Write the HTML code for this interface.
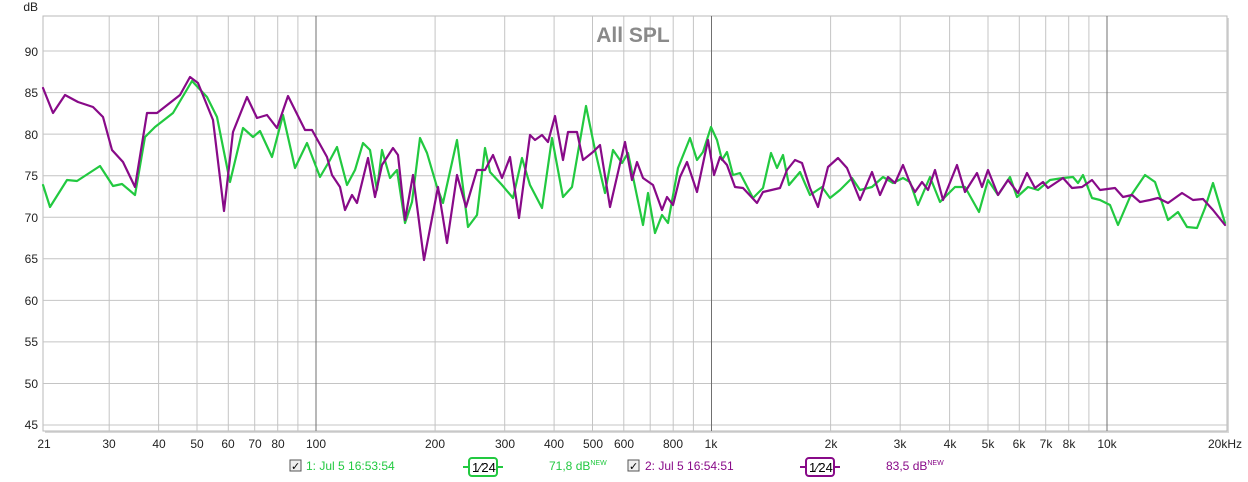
<!DOCTYPE html>
<html><head><meta charset="utf-8"><style>
html,body{margin:0;padding:0;background:#fff;}
svg{display:block;font-family:"Liberation Sans",sans-serif;}
</style></head><body>
<svg width="1248" height="482" viewBox="0 0 1248 482" xmlns="http://www.w3.org/2000/svg">
<rect x="0" y="0" width="1248" height="482" fill="#fff"/>
<rect x="45" y="18" width="1184" height="415" fill="#d8d8d8"/>
<rect x="43" y="16" width="1184" height="415" fill="#fff" stroke="#b8b8b8" stroke-width="1"/>
<g stroke="#c4c4c4" stroke-width="1">
<line x1="43" x2="1227" y1="51" y2="51"/><line x1="43" x2="1227" y1="92.6" y2="92.6"/>
<line x1="43" x2="1227" y1="134.1" y2="134.1"/><line x1="43" x2="1227" y1="175.7" y2="175.7"/>
<line x1="43" x2="1227" y1="217.2" y2="217.2"/><line x1="43" x2="1227" y1="258.8" y2="258.8"/>
<line x1="43" x2="1227" y1="300.4" y2="300.4"/><line x1="43" x2="1227" y1="341.9" y2="341.9"/>
<line x1="43" x2="1227" y1="383.5" y2="383.5"/><line x1="43" x2="1227" y1="425" y2="425"/>
<line y1="16" y2="431" x1="109.2" x2="109.2"/><line y1="16" y2="431" x1="158.6" x2="158.6"/>
<line y1="16" y2="431" x1="197" x2="197"/><line y1="16" y2="431" x1="228.3" x2="228.3"/>
<line y1="16" y2="431" x1="254.7" x2="254.7"/><line y1="16" y2="431" x1="277.7" x2="277.7"/>
<line y1="16" y2="431" x1="297.9" x2="297.9"/>
<line y1="16" y2="431" x1="435.1" x2="435.1"/><line y1="16" y2="431" x1="504.7" x2="504.7"/>
<line y1="16" y2="431" x1="554.1" x2="554.1"/><line y1="16" y2="431" x1="592.5" x2="592.5"/>
<line y1="16" y2="431" x1="623.8" x2="623.8"/><line y1="16" y2="431" x1="650.2" x2="650.2"/>
<line y1="16" y2="431" x1="673.2" x2="673.2"/><line y1="16" y2="431" x1="693.4" x2="693.4"/>
<line y1="16" y2="431" x1="830.6" x2="830.6"/><line y1="16" y2="431" x1="900.2" x2="900.2"/>
<line y1="16" y2="431" x1="949.6" x2="949.6"/><line y1="16" y2="431" x1="988" x2="988"/>
<line y1="16" y2="431" x1="1019.3" x2="1019.3"/><line y1="16" y2="431" x1="1045.7" x2="1045.7"/>
<line y1="16" y2="431" x1="1068.7" x2="1068.7"/><line y1="16" y2="431" x1="1088.9" x2="1088.9"/>
</g>
<g stroke="#707070" stroke-width="1">
<line y1="16" y2="431" x1="316" x2="316"/><line y1="16" y2="431" x1="711.5" x2="711.5"/><line y1="16" y2="431" x1="1107" x2="1107"/>
</g>
<text x="633" y="42" font-size="21" font-weight="bold" fill="#8a8a8a" text-anchor="middle">All SPL</text>
<g font-size="12" fill="#222" text-anchor="end">
<text x="38" y="11">dB</text>
<text x="38" y="56">90</text><text x="38" y="97">85</text><text x="38" y="139">80</text>
<text x="38" y="180">75</text><text x="38" y="222">70</text><text x="38" y="263">65</text>
<text x="38" y="305">60</text><text x="38" y="346">55</text><text x="38" y="388">50</text><text x="38" y="429">45</text>
</g>
<g font-size="12" fill="#222" text-anchor="middle">
<text x="44" y="448">21</text><text x="109" y="448">30</text><text x="159" y="448">40</text>
<text x="197" y="448">50</text><text x="228" y="448">60</text><text x="255" y="448">70</text>
<text x="278" y="448">80</text><text x="316" y="448">100</text><text x="435" y="448">200</text>
<text x="505" y="448">300</text><text x="554" y="448">400</text><text x="593" y="448">500</text>
<text x="624" y="448">600</text><text x="673" y="448">800</text><text x="711" y="448">1k</text>
<text x="831" y="448">2k</text><text x="900" y="448">3k</text><text x="950" y="448">4k</text>
<text x="988" y="448">5k</text><text x="1019" y="448">6k</text><text x="1046" y="448">7k</text>
<text x="1069" y="448">8k</text><text x="1107" y="448">10k</text><text x="1225" y="448">20kHz</text>
</g>
<g fill="none" stroke-width="2.2" stroke-linejoin="round" stroke-linecap="round">
<polyline stroke="#22c940" points="43,185 50,207 67,180 77,181 100,166 113,186 122,184 135,195 145,137 155,127 173,113 192,81 207,97 217,117 230,182 243,128 253,137 260,131 272,157 283,115 295,168 307,143 320,177 330,160 337,147 347,185 355,170 363,143 370,150 377,190 382,150 390,178 397,170 405,223 412,202 420,138 427,153 437,187 443,203 457,140 468,227 477,215 485,148 490,172 502,185 513,198 522,158 530,185 542,208 552,138 563,197 572,187 586,106 595,150 605,193 613,150 622,163 628,153 643,225 648,193 655,233 662,215 668,223 678,168 690,138 697,160 703,152 711,127 717,140 722,160 727,152 733,175 740,173 753,198 763,188 771,153 777,168 783,155 789,185 800,172 810,195 822,187 830,198 840,190 852,178 860,190 872,187 883,177 893,183 903,178 910,182 918,205 930,177 940,202 955,187 965,187 979,212 988,180 998,195 1010,177 1017,197 1028,187 1038,190 1050,180 1063,178 1073,177 1078,183 1083,175 1092,198 1100,200 1110,205 1118,225 1130,197 1145,175 1155,182 1168,220 1178,212 1187,227 1197,228 1205,208 1213,183 1225,223"/>
<polyline stroke="#880a88" points="43,88 53,113 65,95 78,102 93,107 103,117 112,150 123,162 135,187 147,113 157,113 180,95 190,77 198,83 213,120 224,211 233,132 247,97 257,118 267,115 277,128 288,96 305,130 312,130 327,157 332,175 340,187 345,210 352,195 357,203 368,158 375,197 382,165 393,148 398,155 405,220 413,175 424,260 438,187 447,243 457,175 466,207 477,170 485,170 493,155 502,178 510,157 519,218 530,135 535,140 542,135 548,142 555,116 563,160 568,132 577,132 583,160 593,152 600,145 610,207 625,142 632,180 637,162 643,178 653,185 662,210 667,197 673,205 680,177 687,162 697,192 708,140 714,175 720,157 727,165 735,187 743,188 757,203 763,192 780,188 787,170 795,160 802,163 810,188 818,207 828,167 838,158 847,168 860,200 872,172 880,195 888,177 895,183 903,165 910,183 915,192 922,182 928,190 935,170 943,200 957,165 965,192 977,173 982,187 988,170 998,195 1008,180 1018,193 1027,173 1035,188 1043,182 1048,188 1063,178 1072,188 1082,187 1092,180 1100,190 1115,188 1123,197 1132,195 1140,202 1150,200 1158,198 1168,203 1182,193 1193,200 1203,199 1213,210 1225,225"/>
</g>
<g font-size="12">
<rect x="290" y="460" width="11" height="11" fill="#eee" stroke="#555"/>
<text x="291" y="470" font-size="11" fill="#000">✓</text>
<text x="306" y="470" fill="#22c940">1: Jul 5 16:53:54</text>
<line x1="463" x2="503" y1="467" y2="467" stroke="#22c940" stroke-width="2"/>
<rect x="469" y="458" width="28" height="18" rx="3" fill="#fff" stroke="#22c940" stroke-width="2"/>
<text x="472" y="472" fill="#000" font-size="13">1⁄24</text>
<text x="549" y="470" fill="#22c940">71,8 dB<tspan font-size="7" dy="-5">NEW</tspan></text>
<rect x="628" y="460" width="11" height="11" fill="#eee" stroke="#555"/>
<text x="629" y="470" font-size="11" fill="#000">✓</text>
<text x="645" y="470" fill="#880a88">2: Jul 5 16:54:51</text>
<line x1="800" x2="840" y1="467" y2="467" stroke="#880a88" stroke-width="2"/>
<rect x="806" y="458" width="28" height="18" rx="3" fill="#fff" stroke="#880a88" stroke-width="2"/>
<text x="809" y="472" fill="#000" font-size="13">1⁄24</text>
<text x="886" y="470" fill="#880a88">83,5 dB<tspan font-size="7" dy="-5">NEW</tspan></text>
</g>
</svg>
</body></html>
